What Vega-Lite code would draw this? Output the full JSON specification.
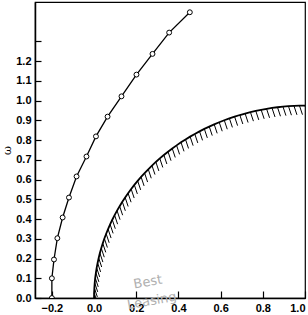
{
  "$schema": "https://vega.github.io/schema/vega-lite/v6.json",
  "width": 270,
  "height": 296,
  "autosize": {"type": "none"},
  "padding": {"left": 35, "top": 2, "right": 3, "bottom": 17},
  "background": "white",
  "config": {
    "view": {"stroke": "black", "strokeWidth": 1.2},
    "axis": {
      "grid": false,
      "domainColor": "black",
      "domainWidth": 1.5,
      "tickColor": "black",
      "tickWidth": 1.2,
      "labelFont": "Liberation Sans",
      "labelFontWeight": "bold",
      "labelFontSize": 11,
      "labelColor": "black",
      "labelFlush": false,
      "labelOverlap": false,
      "labelBound": false
    }
  },
  "datasets": {
    "curve": [
      {"x": -0.2, "y": 0.0},
      {"x": -0.2, "y": 0.1},
      {"x": -0.19, "y": 0.195},
      {"x": -0.174, "y": 0.303},
      {"x": -0.149, "y": 0.408},
      {"x": -0.119, "y": 0.509},
      {"x": -0.083, "y": 0.616},
      {"x": -0.036, "y": 0.717},
      {"x": 0.009, "y": 0.819},
      {"x": 0.064, "y": 0.919},
      {"x": 0.13, "y": 1.022},
      {"x": 0.201, "y": 1.132},
      {"x": 0.277, "y": 1.237},
      {"x": 0.356, "y": 1.345},
      {"x": 0.454, "y": 1.448}
    ],
    "arc": [
      {"x": 0.0, "y": 0.0},
      {"x": 0.0003, "y": 0.0255},
      {"x": 0.0014, "y": 0.051},
      {"x": 0.0031, "y": 0.0765},
      {"x": 0.0055, "y": 0.1019},
      {"x": 0.0086, "y": 0.1273},
      {"x": 0.0123, "y": 0.1525},
      {"x": 0.0168, "y": 0.1777},
      {"x": 0.0219, "y": 0.2027},
      {"x": 0.0276, "y": 0.2276},
      {"x": 0.0341, "y": 0.2524},
      {"x": 0.0412, "y": 0.2769},
      {"x": 0.0489, "y": 0.3013},
      {"x": 0.0574, "y": 0.3255},
      {"x": 0.0664, "y": 0.3494},
      {"x": 0.0761, "y": 0.3731},
      {"x": 0.0865, "y": 0.3966},
      {"x": 0.0974, "y": 0.4197},
      {"x": 0.109, "y": 0.4426},
      {"x": 0.1212, "y": 0.4652},
      {"x": 0.134, "y": 0.4875},
      {"x": 0.1474, "y": 0.5094},
      {"x": 0.1613, "y": 0.531},
      {"x": 0.1759, "y": 0.5522},
      {"x": 0.191, "y": 0.5731},
      {"x": 0.2067, "y": 0.5935},
      {"x": 0.2229, "y": 0.6136},
      {"x": 0.2396, "y": 0.6332},
      {"x": 0.2569, "y": 0.6524},
      {"x": 0.2746, "y": 0.6711},
      {"x": 0.2929, "y": 0.6894},
      {"x": 0.3117, "y": 0.7072},
      {"x": 0.3309, "y": 0.7246},
      {"x": 0.3506, "y": 0.7414},
      {"x": 0.3707, "y": 0.7577},
      {"x": 0.3912, "y": 0.7735},
      {"x": 0.4122, "y": 0.7888},
      {"x": 0.4336, "y": 0.8035},
      {"x": 0.4554, "y": 0.8177},
      {"x": 0.4775, "y": 0.8313},
      {"x": 0.5, "y": 0.8444},
      {"x": 0.5228, "y": 0.8569},
      {"x": 0.546, "y": 0.8687},
      {"x": 0.5695, "y": 0.88},
      {"x": 0.5933, "y": 0.8907},
      {"x": 0.6173, "y": 0.9008},
      {"x": 0.6416, "y": 0.9102},
      {"x": 0.6662, "y": 0.9191},
      {"x": 0.691, "y": 0.9273},
      {"x": 0.716, "y": 0.9348},
      {"x": 0.7412, "y": 0.9418},
      {"x": 0.7666, "y": 0.9481},
      {"x": 0.7921, "y": 0.9537},
      {"x": 0.8178, "y": 0.9587},
      {"x": 0.8436, "y": 0.963},
      {"x": 0.8695, "y": 0.9667},
      {"x": 0.8955, "y": 0.9697},
      {"x": 0.9215, "y": 0.972},
      {"x": 0.9477, "y": 0.9737},
      {"x": 0.9738, "y": 0.9747},
      {"x": 1.0, "y": 0.975}
    ],
    "watermark": [
      {"x": 0.255, "y": 0.081, "label": "Best"},
      {"x": 0.274, "y": -0.015, "label": "Leasing"}
    ]
  },
  "encoding": {
    "x": {
      "field": "x",
      "type": "quantitative",
      "scale": {"domain": [-0.28, 1.0], "nice": false, "zero": false},
      "axis": {
        "title": null,
        "values": [-0.2, 0, 0.2, 0.4, 0.6, 0.8, 1.0],
        "format": ".1f",
        "tickSize": -7,
        "labelPadding": 11,
        "labelFlush": true
      }
    },
    "y": {
      "field": "y",
      "type": "quantitative",
      "scale": {"domain": [0, 1.5], "nice": false, "zero": false},
      "axis": {
        "title": "ω",
        "titleFont": "DejaVu Serif",
        "titleFontSize": 11,
        "titleFontWeight": "normal",
        "titleColor": "black",
        "titlePadding": 3,
        "values": [0, 0.1, 0.2, 0.3, 0.4, 0.5, 0.6, 0.7, 0.8, 0.9, 1.0, 1.1, 1.2, 1.3],
        "labelExpr": "datum.value > 1.25 ? '' : format(datum.value, '.1f')",
        "tickSize": -6,
        "labelPadding": 10
      }
    }
  },
  "layer": [
    {
      "data": {"name": "arc"},
      "mark": {"type": "rule", "color": "black", "strokeWidth": 1, "x2Offset": 3, "y2Offset": 9, "clip": true},
      "encoding": {
        "x2": {"field": "x"},
        "y2": {"field": "y"}
      }
    },
    {
      "data": {"name": "arc"},
      "mark": {"type": "line", "color": "black", "strokeWidth": 1.8, "clip": true}
    },
    {
      "data": {"name": "curve"},
      "mark": {
        "type": "line",
        "color": "black",
        "strokeWidth": 1.3,
        "clip": true,
        "point": {"filled": true, "fill": "white", "stroke": "black", "strokeWidth": 1, "size": 24}
      }
    },
    {
      "data": {"name": "watermark"},
      "mark": {"type": "text", "font": "DejaVu Sans", "fontSize": 13, "angle": 350, "color": "#b0b0b0", "clip": false},
      "encoding": {"text": {"field": "label"}}
    }
  ]
}
